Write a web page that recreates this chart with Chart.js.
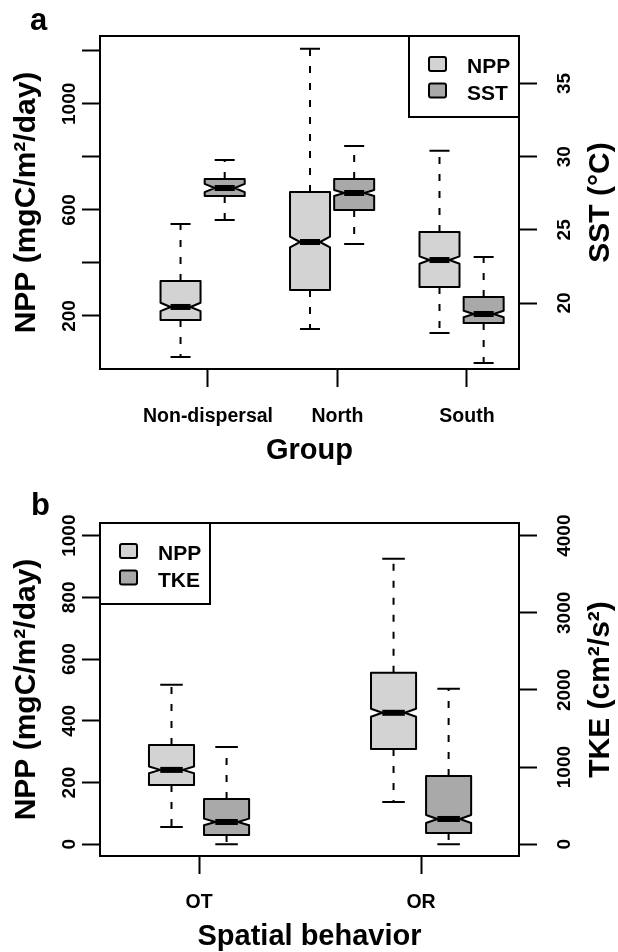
<!DOCTYPE html>
<html>
<head>
<meta charset="utf-8">
<script src="https://cdn.jsdelivr.net/npm/chart.js@4.4.1/dist/chart.umd.min.js"></script>
<style>
  html, body { margin: 0; padding: 0; background: #fff; }
  #wrap { position: relative; width: 618px; height: 952px; }
  canvas { position: absolute; left: 0; }
</style>
</head>
<body>
<div id="wrap">
  <canvas id="chartA" width="618" height="476" style="top:0"></canvas>
  <canvas id="chartB" width="618" height="476" style="top:476px"></canvas>
</div>
<script>
// box stats: [lower whisker, Q1, median, Q3, upper whisker]
const groupLabels = ["Non-dispersal", "North", "South"];
const nppGroup = [
  [45, 185, 234, 332, 547],
  [151, 298, 479, 668, 1208],
  [136, 309, 411, 517, 823],
];
const nppGroupNotch = [16, 20, 14];
const sstGroup = [
  [25.67, 27.31, 27.86, 28.48, 29.77],
  [24.03, 26.36, 27.52, 28.48, 30.73],
  [15.9, 18.63, 19.25, 20.41, 23.14],
];
const sstGroupNotch = [0.28, 0.2, 0.22];

const behaviorLabels = ["OT", "OR"];
const nppBehavior = [
  [56, 192, 241, 322, 517],
  [137, 309, 426, 556, 925],
];
const nppBehaviorNotch = [11, 13];
const tkeBehavior = [
  [0, 121, 289, 588, 1262],
  [0, 147, 328, 886, 2015],
];
const tkeBehaviorNotch = [43, 52];

// axis ticks
const nppTicksA = [200, 400, 600, 800, 1000, 1200];
const nppTickTextA = ["200", "", "600", "", "1000", ""];
const sstTicks = [20, 25, 30, 35];
const nppTicksB = [0, 200, 400, 600, 800, 1000];
const tkeTicks = [0, 1000, 2000, 3000, 4000];

const LIGHT = "#d3d3d3";
const DARK = "#a9a9a9";
const FONT = '"Liberation Sans", Arial, Helvetica, sans-serif';

function text(ctx, s, x, y, size, align, rotate) {
  ctx.save();
  ctx.translate(x, y);
  if (rotate) ctx.rotate(-Math.PI / 2);
  ctx.font = "bold " + size + "px " + FONT;
  ctx.fillStyle = "#000";
  ctx.textAlign = align || "center";
  ctx.textBaseline = "alphabetic";
  ctx.fillText(s, 0, 0);
  ctx.restore();
}

function drawBox(ctx, xs, ys, xc, width, st, notch, fill) {
  const X = xs.getPixelForValue(xc);
  const hw = Math.abs(xs.getPixelForValue(xc + width / 2) - X);
  const [mn, q1, md, q3, mx] = st.map((v) => ys.getPixelForValue(v));
  const nLo = ys.getPixelForValue(st[2] - notch);
  const nHi = ys.getPixelForValue(st[2] + notch);

  ctx.save();
  ctx.strokeStyle = "#000";
  ctx.lineWidth = 2;
  ctx.lineJoin = "round";
  // whiskers
  ctx.setLineDash([7, 10]);
  ctx.beginPath();
  ctx.moveTo(X, q3); ctx.lineTo(X, mx);
  ctx.moveTo(X, q1); ctx.lineTo(X, mn);
  ctx.stroke();
  ctx.setLineDash([]);
  // staples
  ctx.beginPath();
  ctx.moveTo(X - hw / 2, mx); ctx.lineTo(X + hw / 2, mx);
  ctx.moveTo(X - hw / 2, mn); ctx.lineTo(X + hw / 2, mn);
  ctx.stroke();
  // notched box
  ctx.beginPath();
  ctx.moveTo(X - hw, q1);
  ctx.lineTo(X - hw, nLo);
  ctx.lineTo(X - hw / 2, md);
  ctx.lineTo(X - hw, nHi);
  ctx.lineTo(X - hw, q3);
  ctx.lineTo(X + hw, q3);
  ctx.lineTo(X + hw, nHi);
  ctx.lineTo(X + hw / 2, md);
  ctx.lineTo(X + hw, nLo);
  ctx.lineTo(X + hw, q1);
  ctx.closePath();
  ctx.fillStyle = fill;
  ctx.fill();
  ctx.stroke();
  // median
  ctx.fillStyle = "#000";
  ctx.fillRect(X - hw / 2, md - 3, hw, 6);
  ctx.restore();
}

// draws boxes, frame, labels and legend from the chart's scales
const boxPlugin = {
  id: "boxPlugin",
  afterDatasetsDraw(chart) {
    const ctx = chart.ctx;
    const p = chart.options.plugins.boxPlugin;
    const area = chart.chartArea;
    const xs = chart.scales.x;

    chart.data.datasets.forEach((ds) => {
      const ys = chart.scales[ds.yAxisID];
      ds.stats.forEach((st, i) => {
        drawBox(ctx, xs, ys, i + 1 + ds.offset, p.boxWidth, st, ds.notch[i], ds.fill);
      });
    });

    // frame
    ctx.save();
    ctx.strokeStyle = "#000";
    ctx.lineWidth = 2;
    ctx.strokeRect(area.left, area.top, area.right - area.left, area.bottom - area.top);
    ctx.restore();

    // tick labels
    const yl = chart.scales.y;
    yl.ticks.forEach((t, i) => {
      const s = p.leftText[i];
      if (s) text(ctx, s, 74.5, yl.getPixelForValue(t.value), 19, "center", true);
    });
    const yr = chart.scales.y2;
    yr.ticks.forEach((t) => {
      text(ctx, String(t.value), 570, yr.getPixelForValue(t.value), 19, "center", true);
    });
    xs.ticks.forEach((t, i) => {
      text(ctx, p.xText[i], xs.getPixelForValue(t.value), p.xLabelY, 19.5, "center", false);
    });

    // axis titles
    const midY = (area.top + area.bottom) / 2;
    const midX = (area.left + area.right) / 2;
    text(ctx, p.leftTitle, 35, midY, 30, "center", true);
    text(ctx, p.rightTitle, 609, midY, 30, "center", true);
    text(ctx, p.xTitle, midX, p.xTitleY, 29, "center", false);
    text(ctx, p.letter, p.letterX, p.letterY, 31, "left", false);

    // legend
    const lw = 110, lh = 81;
    const lx = p.legendRight ? area.right - lw : area.left;
    const ly = area.top;
    ctx.save();
    ctx.fillStyle = "#fff";
    ctx.fillRect(lx, ly, lw, lh);
    ctx.strokeStyle = "#000";
    ctx.lineWidth = 2;
    ctx.strokeRect(lx, ly, lw, lh);
    chart.data.datasets.forEach((ds, i) => {
      const sy = ly + 21 + i * 26.5;
      ctx.beginPath();
      ctx.roundRect(lx + 20, sy, 17, 14, 2);
      ctx.fillStyle = ds.fill;
      ctx.fill();
      ctx.stroke();
      text(ctx, ds.label, lx + 58, ly + 37 + i * 26.5, 21, "left", false);
    });
    ctx.restore();
  },
};

function tickGrid() {
  return {
    display: true,
    drawOnChartArea: false,
    drawTicks: true,
    tickLength: 18,
    tickWidth: 2,
    tickColor: "#000",
  };
}

function makeChart(id, cfg) {
  return new Chart(document.getElementById(id), {
    type: "scatter",
    data: {
      datasets: cfg.datasets.map((d) => ({
        label: d.label,
        yAxisID: d.axis,
        stats: d.stats,
        notch: d.notch,
        fill: d.fill,
        offset: d.offset,
        data: d.stats.map((s, i) => ({ x: i + 1 + d.offset, y: s[2] })),
        pointRadius: 0,
        showLine: false,
      })),
    },
    options: {
      responsive: false,
      animation: false,
      devicePixelRatio: 1,
      layout: { padding: { top: cfg.padTop, left: 0, right: 0, bottom: 0 } },
      plugins: {
        legend: { display: false },
        tooltip: { enabled: false },
        boxPlugin: cfg.labels,
      },
      scales: {
        x: {
          type: "linear",
          position: "bottom",
          min: cfg.xMin,
          max: cfg.xMax,
          afterBuildTicks: (s) => { s.ticks = cfg.xTicks.map((v) => ({ value: v })); },
          afterFit: (s) => { s.height = cfg.xHeight; },
          ticks: { display: false },
          grid: tickGrid(),
          border: { display: false },
        },
        y: {
          type: "linear",
          position: "left",
          min: cfg.yMin,
          max: cfg.yMax,
          afterBuildTicks: (s) => { s.ticks = cfg.yTicks.map((v) => ({ value: v })); },
          afterFit: (s) => { s.width = 100; },
          ticks: { display: false },
          grid: tickGrid(),
          border: { display: false },
        },
        y2: {
          type: "linear",
          position: "right",
          min: cfg.y2Min,
          max: cfg.y2Max,
          afterBuildTicks: (s) => { s.ticks = cfg.y2Ticks.map((v) => ({ value: v })); },
          afterFit: (s) => { s.width = 99; },
          ticks: { display: false },
          grid: tickGrid(),
          border: { display: false },
        },
      },
    },
    plugins: [boxPlugin],
  });
}

makeChart("chartA", {
  padTop: 36,
  xHeight: 107,
  xMin: 0.166, xMax: 3.402, xTicks: [1, 2, 3],
  yMin: 0, yMax: 1256, yTicks: nppTicksA,
  y2Min: 15.49, y2Max: 38.25, y2Ticks: sstTicks,
  datasets: [
    { label: "NPP", axis: "y", stats: nppGroup, notch: nppGroupNotch, fill: LIGHT, offset: -0.212 },
    { label: "SST", axis: "y2", stats: sstGroup, notch: sstGroupNotch, fill: DARK, offset: 0.129 },
  ],
  labels: {
    boxWidth: 0.309,
    leftText: nppTickTextA,
    xText: groupLabels,
    xLabelY: 422,
    xTitle: "Group",
    xTitleY: 459,
    leftTitle: "NPP (mgC/m\u00b2/day)",
    rightTitle: "SST (\u00b0C)",
    letter: "a", letterX: 30, letterY: 30,
    legendRight: true,
  },
});

makeChart("chartB", {
  padTop: 47,
  xHeight: 96,
  xMin: 0.554, xMax: 2.441, xTicks: [1, 2],
  yMin: -38, yMax: 1041, yTicks: nppTicksB,
  y2Min: -152, y2Max: 4164, y2Ticks: tkeTicks,
  datasets: [
    { label: "NPP", axis: "y", stats: nppBehavior, notch: nppBehaviorNotch, fill: LIGHT, offset: -0.124 },
    { label: "TKE", axis: "y2", stats: tkeBehavior, notch: tkeBehaviorNotch, fill: DARK, offset: 0.124 },
  ],
  labels: {
    boxWidth: 0.203,
    leftText: nppTicksB.map(String),
    xText: behaviorLabels,
    xLabelY: 432,
    xTitle: "Spatial behavior",
    xTitleY: 469,
    leftTitle: "NPP (mgC/m\u00b2/day)",
    rightTitle: "TKE (cm\u00b2/s\u00b2)",
    letter: "b", letterX: 31, letterY: 39,
    legendRight: false,
  },
});
</script>
</body>
</html>
